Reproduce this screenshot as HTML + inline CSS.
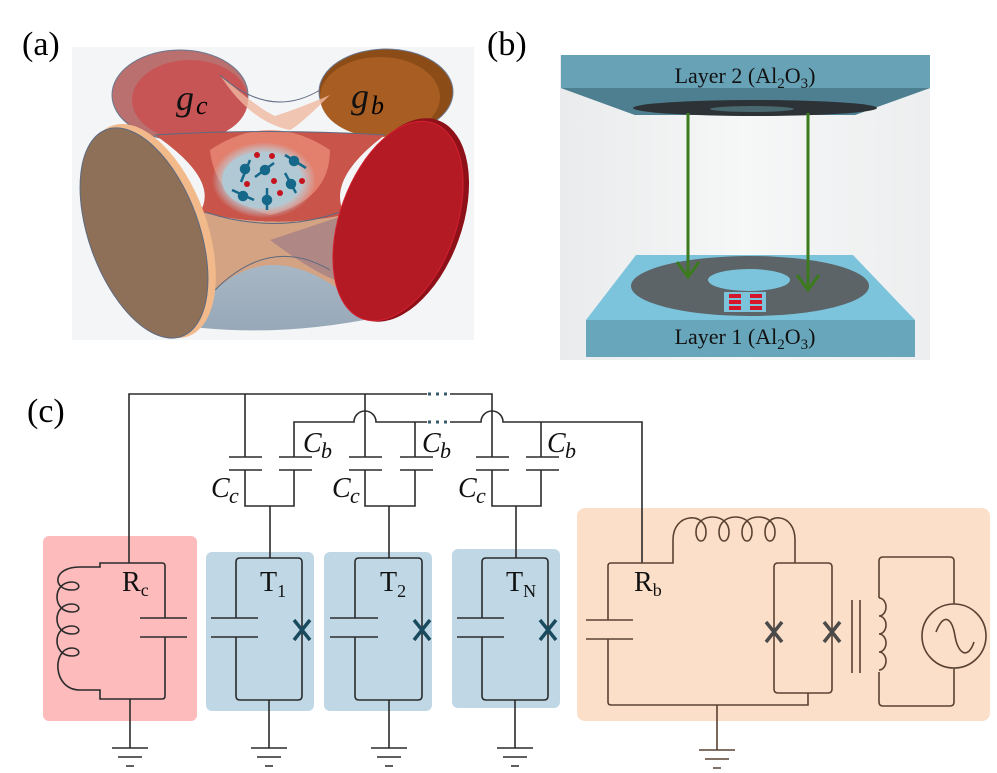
<!DOCTYPE html>
<html><head><meta charset="utf-8"><style>
html,body{margin:0;padding:0;background:#fff;}
svg{display:block;}
text{font-family:"Liberation Serif",serif;}
</style></head><body>
<svg width="997" height="773" viewBox="0 0 997 773" xmlns="http://www.w3.org/2000/svg">
<defs>
<linearGradient id="bgB" x1="0" y1="0" x2="1" y2="0"><stop offset="0" stop-color="#e9ebec"/><stop offset="0.5" stop-color="#f6f7f7"/><stop offset="1" stop-color="#eceeef"/></linearGradient>
<radialGradient id="cloud" cx="0.5" cy="0.5" r="0.5"><stop offset="0.7" stop-color="#b3cbd6"/><stop offset="1" stop-color="#c8d6de" stop-opacity="0"/></radialGradient>
<linearGradient id="shd" x1="0" y1="0" x2="0" y2="1"><stop offset="0" stop-color="#b5c2cd"/><stop offset="1" stop-color="#97a8b8"/></linearGradient>
</defs>
<text x="22" y="55" font-size="34">(a)</text>
<text x="487" y="55" font-size="34">(b)</text>
<text x="27" y="422" font-size="34">(c)</text>

<!-- Panel a -->
<rect x="72" y="47" width="402" height="293" fill="#f4f5f6"/>
<path d="M150,215 Q270,235 390,215 L410,310 Q270,345 150,320 Z" fill="url(#shd)"/>
<ellipse cx="180" cy="95" rx="68" ry="45" fill="#b9706e" stroke="#6a7890" stroke-width="1"/>
<ellipse cx="190" cy="100" rx="58" ry="40" fill="#c85555"/>
<ellipse cx="386" cy="92" rx="67" ry="43" fill="#8c4c18" stroke="#6a7890" stroke-width="1"/>
<ellipse cx="380" cy="97" rx="60" ry="40" fill="#a85e22"/>
<path d="M155,135 Q270,128 385,135 Q325,180 345,215 Q270,230 200,212 Q220,180 155,135 Z" fill="#c9554a"/>
<path d="M220,75 Q260,110 275,116 Q300,108 330,95 Q300,125 290,130 Q250,122 220,75Z" fill="#efb9a0" opacity="0.8"/>
<path d="M200,212 Q270,230 345,215 L340,290 Q270,240 215,290 Z" fill="#d3a383"/>
<path d="M270,240 Q310,270 335,280 L345,215 Z" fill="#a07a84" opacity="0.7"/>
<path d="M210,150 Q270,110 330,150 Q330,200 270,215 Q215,200 210,150Z" fill="#e88a76" opacity="0.8"/>
<g stroke="#5d6a80" stroke-width="1" fill="none"><path d="M220,75 Q270,120 320,90"/><path d="M155,135 Q270,128 385,135"/><path d="M205,212 Q275,235 340,212"/><path d="M215,290 Q270,235 330,270"/></g>
<ellipse cx="264" cy="180" rx="52" ry="38" fill="url(#cloud)"/>
<ellipse cx="262" cy="180" rx="40" ry="28" fill="#b0c9d5"/>
<g fill="#c6141e"><circle cx="257" cy="155" r="3"/><circle cx="272" cy="156" r="3"/><circle cx="247" cy="184" r="3"/><circle cx="274" cy="181" r="3"/><circle cx="302" cy="181" r="3"/><circle cx="280" cy="193" r="3"/></g>
<g stroke="#16688a" stroke-width="2.5" fill="#16688a">
<line x1="250" y1="160" x2="241" y2="182"/><circle cx="245" cy="169" r="4"/>
<line x1="274" y1="163" x2="255" y2="177"/><circle cx="265" cy="170" r="4"/>
<line x1="285" y1="155" x2="306" y2="168"/><circle cx="294" cy="161" r="4"/>
<line x1="285" y1="173" x2="296" y2="193"/><circle cx="291" cy="184" r="4"/>
<line x1="232" y1="190" x2="254" y2="200"/><circle cx="243" cy="196" r="4"/>
<line x1="267" y1="188" x2="267" y2="210"/><circle cx="267" cy="200" r="4"/>
</g>
<ellipse cx="150" cy="231" rx="57" ry="112" transform="rotate(-20 150 231)" fill="#f2b98a"/>
<ellipse cx="144" cy="233" rx="55" ry="110" transform="rotate(-20 144 233)" fill="#8e7058" stroke="#5d6a80" stroke-width="1"/>
<ellipse cx="402" cy="220" rx="60" ry="106" transform="rotate(20 402 220)" fill="#8e1018"/>
<ellipse cx="398" cy="221" rx="58" ry="104" transform="rotate(20 398 221)" fill="#b31a24" stroke="#d42030" stroke-width="1"/>
<text x="176" y="110" font-size="36" font-style="italic" fill="#111">g</text><text x="196" y="114" font-size="26" font-style="italic">c</text>
<text x="351" y="108" font-size="36" font-style="italic" fill="#111">g</text><text x="371" y="114" font-size="26" font-style="italic">b</text>

<!-- Panel b -->
<rect x="560" y="55" width="370" height="305" fill="url(#bgB)"/>
<polygon points="561,55 930,55 930,88 855,115 635,115 561,88" fill="#67a2b6"/>
<polygon points="561,88 930,88 855,115 635,115" fill="#4e7f90"/>
<ellipse cx="755" cy="108" rx="122" ry="8" fill="#2c3236"/>
<ellipse cx="752" cy="109" rx="42" ry="3" fill="#496870"/>
<text x="745" y="83" font-size="22" text-anchor="middle" fill="#111">Layer 2 (Al<tspan font-size="15" dy="5">2</tspan><tspan dy="-5">O</tspan><tspan font-size="15" dy="5">3</tspan><tspan dy="-5">)</tspan></text>
<polygon points="636,255 853,255 915,320 586,320" fill="#7cc3dc"/>
<rect x="586" y="320" width="329" height="37" fill="#68a7bb"/>
<ellipse cx="750" cy="286" rx="119" ry="30" fill="#5c6468"/>
<ellipse cx="749" cy="280" rx="41" ry="11" fill="#7cc3dc"/>
<rect x="724" y="292" width="42" height="20" fill="#7cc3dc"/>
<g fill="#d5162a"><rect x="729" y="294" width="12" height="4"/><rect x="750" y="294" width="12" height="4"/><rect x="729" y="300" width="12" height="4"/><rect x="750" y="300" width="12" height="4"/><rect x="729" y="306" width="12" height="4"/><rect x="750" y="306" width="12" height="4"/></g>
<text x="745" y="344" font-size="22" text-anchor="middle" fill="#111">Layer 1 (Al<tspan font-size="15" dy="5">2</tspan><tspan dy="-5">O</tspan><tspan font-size="15" dy="5">3</tspan><tspan dy="-5">)</tspan></text>
<g stroke="#3c7a1e" stroke-width="3" fill="none"><line x1="688" y1="113" x2="688" y2="277"/><polyline points="677,262 688,277 699,262"/><line x1="808" y1="113" x2="808" y2="290"/><polyline points="797,275 808,290 819,275"/></g>

<!-- Panel c -->
<rect x="43" y="536" width="154" height="185" rx="6" fill="#fdbbbc"/>
<rect x="206" y="552" width="108" height="159" rx="6" fill="#c0d8e6"/>
<rect x="324" y="552" width="108" height="159" rx="6" fill="#c0d8e6"/>
<rect x="452" y="549" width="108" height="159" rx="6" fill="#c0d8e6"/>
<rect x="577" y="508" width="413" height="213" rx="8" fill="#fbdfc8"/>
<g stroke="#2b2b2b" stroke-width="1.6" fill="none">
<path d="M129,563 V394 H427 M450,394 H492 V457"/>
<path d="M294,457 V422 H354 a11,11 0 0 1 22,0 H427 M450,422 H481 a11,11 0 0 1 22,0 H642 V563"/>
<path d="M245,394 V457 M229,457 H262 M229,470 H262 M245,470 V506 H294 V470 M279,470 H312 M279,457 H312"/>
<path d="M365,394 V457 M349,457 H382 M349,470 H382 M365,470 V506 H415 V470 M400,470 H433 M400,457 H433 M415,457 V422"/>
<path d="M541,457 V422 M492,470 V506 H541 V470 M476,457 H509 M476,470 H509 M526,457 H559 M526,470 H559"/>
<path d="M270,506 V558 M389,506 V558 M516,506 V558"/>
<path d="M165,618 V566 Q165,563 162,563 H100 V567 H80"/>
<path d="M80,567 C52,567 52,590 72,590 C82,590 80,582 72,582 C52,582 52,612 72,612 C82,612 80,604 72,604 C52,604 52,634 72,634 C82,634 80,626 72,626 C52,626 52,656 72,656 C82,656 80,648 72,648 C52,648 52,690 80,690"/>
<path d="M80,690 H100 V699 H162 Q165,699 165,696 V637 M140,618 H187 M140,637 H187 M130,699 V748"/>
<path d="M236,618 V562 Q236,558 240,558 H298 Q302,558 302,562 V696 Q302,700 298,700 H240 Q236,700 236,696 V637 M211,618 H258 M211,637 H258 M269,700 V748"/>
<path d="M355,618 V562 Q355,558 359,558 H418 Q422,558 422,562 V696 Q422,700 418,700 H359 Q355,700 355,696 V637 M330,618 H378 M330,637 H378 M389,700 V748"/>
<path d="M482,618 V562 Q482,558 486,558 H544 Q548,558 548,562 V696 Q548,700 544,700 H486 Q482,700 482,696 V637 M457,618 H504 M457,637 H504 M515,700 V748"/>
<path d="M112,748 H148 M118,757 H142 M126,766 H134"/>
<path d="M251,748 H287 M257,757 H281 M265,766 H273"/>
<path d="M371,748 H407 M377,757 H401 M385,766 H393"/>
<path d="M497,748 H533 M503,757 H527 M511,766 H519"/>
</g>
<g stroke="#3a5a6c" stroke-width="3" stroke-dasharray="3,5"><line x1="428" y1="394" x2="450" y2="394"/><line x1="428" y1="422" x2="450" y2="422"/></g>
<g stroke="#1a4a5e" stroke-width="3.5"><path d="M294,620 L310,640 M310,620 L294,640"/><path d="M414,620 L430,640 M430,620 L414,640"/><path d="M540,620 L556,640 M556,620 L540,640"/></g>
<g stroke="#5a4232" stroke-width="1.6" fill="none">
<path d="M608,620 V566 Q608,563 611,563 H673 V540 C673,512 706,512 706,532 C706,544 696,544 696,532 C696,512 729,512 729,532 C729,544 719,544 719,532 C719,512 752,512 752,532 C752,544 742,544 742,532 C742,512 775,512 775,532 C775,544 765,544 765,532 C765,512 795,512 795,540 V563"/>
<path d="M586,620 H633 M586,639 H633 M608,639 V702 Q608,705 611,705 H808 V693 M717,705 V750 M699,750 H735 M705,759 H729 M713,768 H721"/>
<path d="M774,620 V567 Q774,563 778,563 H828 Q832,563 832,567 V689 Q832,693 828,693 H778 Q774,693 774,689 Z"/>
<path d="M852,600 V673 M860,600 V673"/>
<path d="M879,598 V561 Q879,557 883,557 H950 Q954,557 954,561 V604 M954,668 V702 Q954,706 950,706 H883 Q879,706 879,702 V672 M879,598 a7,9 0 0 1 0,18 a7,9 0 0 1 0,18 a7,9 0 0 1 0,18 a7,9 0 0 1 0,18"/>
<circle cx="954" cy="636" r="32"/>
<path d="M936,632 C944,612 952,618 955,636 C958,654 968,660 974,642"/>
</g>
<g stroke="#4a4a4a" stroke-width="3.5"><path d="M766,622 L782,642 M782,622 L766,642"/><path d="M824,622 L840,642 M840,622 L824,642"/></g>
<g font-size="28" font-style="italic" fill="#111">
<text x="303" y="452">C</text><text x="321" y="458" font-size="22">b</text>
<text x="422" y="452">C</text><text x="440" y="458" font-size="22">b</text>
<text x="547" y="452">C</text><text x="565" y="458" font-size="22">b</text>
<text x="211" y="497">C</text><text x="229" y="503" font-size="22">c</text>
<text x="332" y="497">C</text><text x="350" y="503" font-size="22">c</text>
<text x="458" y="497">C</text><text x="476" y="503" font-size="22">c</text>
</g>
<g font-size="28" fill="#111">
<text x="122" y="591">R<tspan font-size="18" dy="5">c</tspan></text>
<text x="260" y="591">T<tspan font-size="18" dy="6">1</tspan></text>
<text x="380" y="591">T<tspan font-size="18" dy="6">2</tspan></text>
<text x="506" y="591">T<tspan font-size="18" dy="6">N</tspan></text>
<text x="634" y="591">R<tspan font-size="18" dy="5">b</tspan></text>
</g>
</svg>
</body></html>
